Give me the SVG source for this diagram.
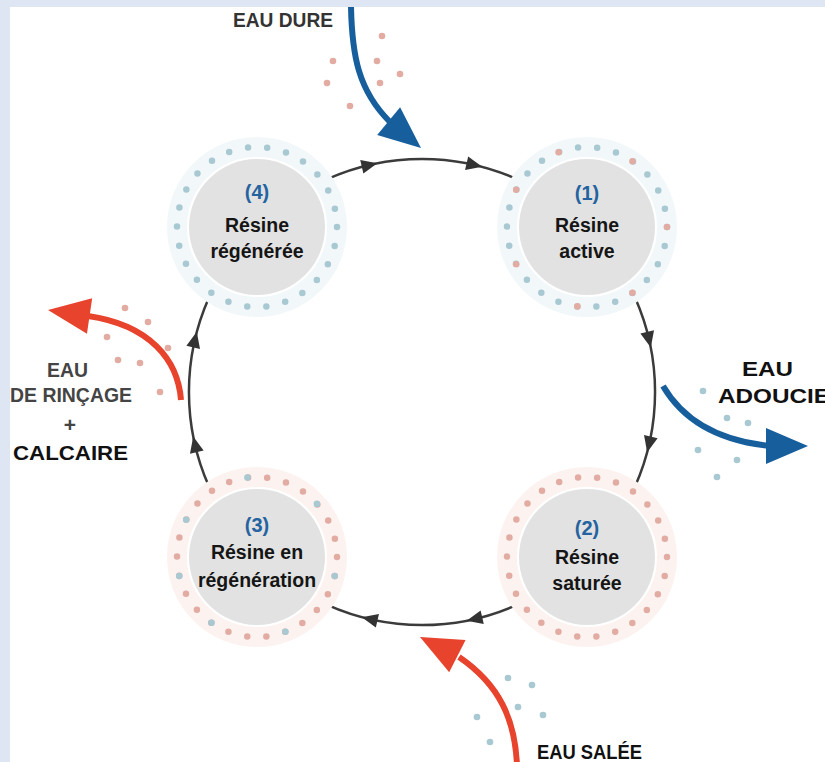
<svg xmlns="http://www.w3.org/2000/svg" xmlns:xlink="http://www.w3.org/1999/xlink" width="825" height="762" viewBox="0 0 825 762">
<style>
.core{fill:#e2e2e2}
.ringB{fill:none;stroke:#a8c8d2;stroke-width:6.5;stroke-linecap:round;stroke-dasharray:0 19.333}
.ringP{fill:none;stroke:#e2aca3;stroke-width:6.5;stroke-linecap:round;stroke-dasharray:0 19.333}
.haloB{fill:none;stroke:#f2f8fa;stroke-width:20}
.haloP{fill:none;stroke:#fcf3f1;stroke-width:20}
.db{fill:#a8c8d2}
.dp{fill:#e2aca3}
.num{font-family:"Liberation Sans",Arial,sans-serif;font-weight:bold;font-size:20px;fill:#2463a0;text-anchor:middle}
.nt{font-family:"Liberation Sans",Arial,sans-serif;font-weight:bold;font-size:19.5px;fill:#151515;text-anchor:middle}
.cyc{fill:none;stroke:#3b3b3b;stroke-width:2.5}
.ah{fill:#333}
.blue{fill:none;stroke:#175f9c;stroke-width:6}
.red{fill:none;stroke:#e8432d;stroke-width:6}
.hb{fill:#175f9c}
.hr{fill:#e8432d}
.lab{font-family:"Liberation Sans",Arial,sans-serif;font-weight:bold;font-size:21px;fill:#333}
.labk{font-family:"Liberation Sans",Arial,sans-serif;font-weight:bold;font-size:21px;fill:#111}
</style>
<defs>
<polygon id="cah" points="8,0 -8,-7 -8,7"/>
<polygon id="bigh" points="0,0 -42,-18 -42,18"/>
</defs>
<rect x="0" y="0" width="825" height="762" fill="#dfe6f3"/>
<rect x="10" y="7" width="815" height="755" fill="#ffffff"/>

<g id="connectors">
<path class="cyc" d="M327.2,179.1 A233,233 0 0 1 516.8,179.1"/>
<path class="cyc" d="M634.9,297.2 A233,233 0 0 1 634.9,486.8"/>
<path class="cyc" d="M516.8,604.9 A233,233 0 0 1 327.2,604.9"/>
<path class="cyc" d="M209.1,486.8 A233,233 0 0 1 209.1,297.2"/>
<use href="#cah" class="ah" transform="translate(369.6,165) rotate(-13)"/>
<use href="#cah" class="ah" transform="translate(474.4,165) rotate(13)"/>
<use href="#cah" class="ah" transform="translate(649,339.6) rotate(77)"/>
<use href="#cah" class="ah" transform="translate(649,444.4) rotate(103)"/>
<use href="#cah" class="ah" transform="translate(474.4,619) rotate(167)"/>
<use href="#cah" class="ah" transform="translate(369.6,619) rotate(193)"/>
<use href="#cah" class="ah" transform="translate(195,444.4) rotate(257)"/>
<use href="#cah" class="ah" transform="translate(195,339.6) rotate(283)"/>
</g>

<g id="node-4" transform="translate(257,227)">
<circle class="haloB" r="80"/>
<circle class="core" r="68"/>
<circle class="ringB" r="80"/>
<text class="num" x="0" y="-28">(4)</text>
<text class="nt" x="0" y="5">Résine</text>
<text class="nt" x="0" y="31">régénérée</text>
</g>

<g id="node-1" transform="translate(587,227)">
<circle class="haloB" r="80"/>
<circle class="core" r="68"/>
<circle class="ringB" r="80"/>
<circle class="dp" cx="80" cy="0" r="3.3"/>
<circle class="dp" cx="45.5" cy="65.8" r="3.3"/>
<circle class="dp" cx="-9.6" cy="79.4" r="3.3"/>
<circle class="dp" cx="-70.8" cy="37.2" r="3.3"/>
<circle class="dp" cx="-70.8" cy="-37.2" r="3.3"/>
<circle class="dp" cx="-28.4" cy="-74.8" r="3.3"/>
<circle class="dp" cx="45.5" cy="-65.8" r="3.3"/>
<text class="num" x="0" y="-27">(1)</text>
<text class="nt" x="0" y="5">Résine</text>
<text class="nt" x="0" y="31">active</text>
</g>

<g id="node-2" transform="translate(587,557)">
<circle class="haloP" r="80"/>
<circle class="core" r="68"/>
<circle class="ringP" r="80"/>
<text class="num" x="0" y="-22">(2)</text>
<text class="nt" x="0" y="7">Résine</text>
<text class="nt" x="0" y="33">saturée</text>
</g>

<g id="node-3" transform="translate(257,557)">
<circle class="haloP" r="80"/>
<circle class="core" r="68"/>
<circle class="ringP" r="80"/>
<circle class="db" cx="77.7" cy="19.1" r="3.3"/>
<circle class="db" cx="28.4" cy="74.8" r="3.3"/>
<circle class="db" cx="-45.5" cy="65.8" r="3.3"/>
<circle class="db" cx="-77.7" cy="19.1" r="3.3"/>
<circle class="db" cx="-70.8" cy="-37.2" r="3.3"/>
<circle class="db" cx="-9.6" cy="-79.4" r="3.3"/>
<circle class="db" cx="59.9" cy="-53.1" r="3.3"/>
<text class="num" x="0" y="-25">(3)</text>
<text class="nt" x="0" y="2">Résine en</text>
<text class="nt" x="0" y="30">régénération</text>
</g>

<g id="flow-eau-dure">
<g class="dp">
<circle cx="382" cy="36" r="3.3"/><circle cx="333" cy="61" r="3.3"/><circle cx="377" cy="61" r="3.3"/>
<circle cx="400" cy="74" r="3.3"/><circle cx="327" cy="83" r="3.3"/><circle cx="380" cy="83" r="3.3"/>
<circle cx="350" cy="106" r="3.3"/>
</g>
<path class="blue" d="M351,7 C352,55 358,90 390,122"/>
<use href="#bigh" class="hb" transform="translate(421,148) rotate(39.6)"/>
<text class="lab" x="233" y="27" textLength="100" lengthAdjust="spacingAndGlyphs">EAU DURE</text>
</g>

<g id="flow-eau-adoucie">
<g class="db">
<circle cx="703" cy="391" r="3.3"/><circle cx="727" cy="418" r="3.3"/><circle cx="748" cy="423" r="3.3"/>
<circle cx="698" cy="450" r="3.3"/><circle cx="737" cy="460" r="3.3"/><circle cx="717" cy="477" r="3.3"/>
</g>
<path class="blue" d="M663,386 C680,415 710,440 770,446"/>
<use href="#bigh" class="hb" transform="translate(808,446)"/>
<text class="labk" x="742" y="376" textLength="51" lengthAdjust="spacingAndGlyphs">EAU</text>
<text class="labk" x="718" y="403" textLength="112" lengthAdjust="spacingAndGlyphs">ADOUCIE</text>
</g>

<g id="flow-eau-salee">
<g class="db">
<circle cx="508" cy="678" r="3.3"/><circle cx="532" cy="685" r="3.3"/><circle cx="518" cy="707" r="3.3"/>
<circle cx="543" cy="715" r="3.3"/><circle cx="477" cy="717" r="3.3"/><circle cx="490" cy="742" r="3.3"/>
</g>
<path class="red" d="M517,765 C515,720 500,685 459,657"/>
<use href="#bigh" class="hr" transform="translate(420,637) rotate(-152.9)"/>
<text class="labk" x="537" y="759" textLength="105" lengthAdjust="spacingAndGlyphs">EAU SALÉE</text>
</g>

<g id="flow-eau-rincage">
<g class="dp">
<circle cx="125" cy="308" r="3.3"/><circle cx="148" cy="322" r="3.3"/><circle cx="107" cy="337" r="3.3"/>
<circle cx="168" cy="348" r="3.3"/><circle cx="118" cy="360" r="3.3"/><circle cx="140" cy="363" r="3.3"/>
<circle cx="160" cy="392" r="3.3"/>
</g>
<path class="red" d="M181,400 C178,360 150,325 88,316"/>
<use href="#bigh" class="hr" transform="translate(48,310) rotate(188.3)"/>
<text class="lab" x="47" y="377" textLength="41" lengthAdjust="spacingAndGlyphs" style="fill:#444">EAU</text>
<text class="lab" x="10" y="402" textLength="122" lengthAdjust="spacingAndGlyphs" style="fill:#444">DE RINÇAGE</text>
<text class="lab" x="70" y="432" text-anchor="middle" style="fill:#444">+</text>
<text class="labk" x="13" y="460" textLength="115" lengthAdjust="spacingAndGlyphs">CALCAIRE</text>
</g>
</svg>
